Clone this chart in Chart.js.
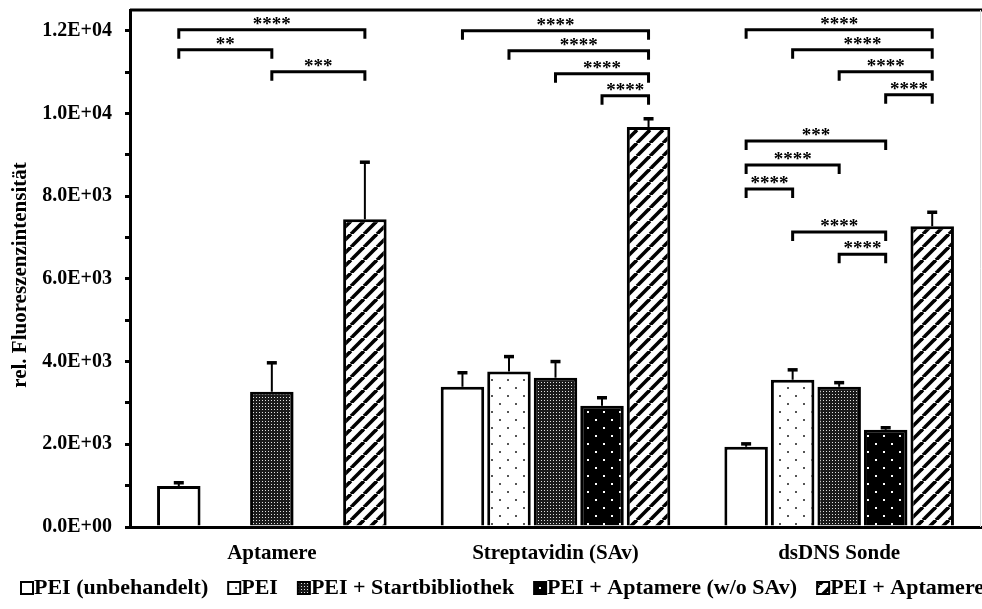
<!DOCTYPE html>
<html>
<head>
<meta charset="utf-8">
<script src="https://cdn.jsdelivr.net/npm/chart.js@4.4.0/dist/chart.umd.min.js"></script>
<style>
html, body { margin: 0; padding: 0; background: #fff; overflow: hidden; }
#wrap { width: 982px; height: 609px; position: relative; }
</style>
</head>
<body>
<div id="wrap"><canvas id="chart"></canvas></div>
<script>
// Werte
var categories = ['Aptamere', 'Streptavidin (SAv)', 'dsDNS Sonde'];
var seriesLabels = ['PEI (unbehandelt)', 'PEI', 'PEI + Startbibliothek', 'PEI + Aptamere (w/o SAv)', 'PEI + Aptamere'];

var peiUnbehandelt = [990, 3390, 1940];
var pei = [null, 3760, 3560];
var peiStartbibliothek = [3270, 3610, 3390];
var peiAptamereOhneSAv = [null, 2930, 2350];
var peiAptamere = [7440, 9670, 7270];

var errUnbehandelt = [80, 340, 70];
var errPei = [null, 360, 240];
var errStartbibliothek = [700, 390, 100];
var errAptamereOhneSAv = [null, 195, 50];
var errAptamere = [1380, 200, 340];

var yTicks = [0, 2000, 4000, 6000, 8000, 10000, 12000];

// Signifikanz-Klammern: Gruppe, von Balken, bis Balken, Höhe, Sterne
var bracketGroup = [0, 0, 0, 1, 1, 1, 1, 2, 2, 2, 2, 2, 2, 2, 2, 2];
var bracketFrom  = [0, 0, 2, 0, 1, 2, 3, 0, 1, 2, 3, 0, 0, 0, 1, 2];
var bracketTo    = [4, 2, 4, 4, 4, 4, 4, 4, 4, 4, 4, 3, 2, 1, 3, 3];
var bracketY     = [12020, 11540, 11010, 12000, 11515, 10960, 10425, 12020, 11540, 11010, 10450, 9330, 8750, 8170, 7130, 6595];
var bracketText  = ['****', '**', '***', '****', '****', '****', '****', '****', '****', '****', '****', '***', '****', '****', '****', '****'];

var FONT = '"Liberation Serif", "Times New Roman", serif';

function makePattern(kind) {
    var c = document.createElement('canvas');
    var g = c.getContext('2d');
    if (kind === 'sparse' || kind === 'dark') {
        c.width = 16; c.height = 16;
        g.fillStyle = kind === 'sparse' ? '#fff' : '#000';
        g.fillRect(0, 0, 16, 16);
        g.fillStyle = kind === 'sparse' ? '#555' : '#fff';
        g.fillRect(3, 3, 2, 2);
        g.fillRect(11, 11, 2, 2);
    } else if (kind === 'dense') {
        c.width = 3; c.height = 3;
        g.fillStyle = '#1a1a1a';
        g.fillRect(0, 0, 3, 3);
        g.fillStyle = '#e0e0e0';
        g.fillRect(1, 1, 1, 1);
    } else if (kind === 'hatch') {
        c.width = 13; c.height = 13;
        g.fillStyle = '#fff';
        g.fillRect(0, 0, 13, 13);
        g.strokeStyle = '#000';
        g.lineWidth = 3.6;
        [-13, 0, 13].forEach(function (o) {
            g.beginPath();
            g.moveTo(o, 13);
            g.lineTo(o + 13, 0);
            g.stroke();
        });
    } else {
        return '#fff';
    }
    return g.createPattern(c, 'repeat');
}

var fills = [makePattern('white'), makePattern('sparse'), makePattern('dense'), makePattern('dark'), makePattern('hatch')];
var seriesValues = [peiUnbehandelt, pei, peiStartbibliothek, peiAptamereOhneSAv, peiAptamere];
var seriesErrors = [errUnbehandelt, errPei, errStartbibliothek, errAptamereOhneSAv, errAptamere];

function sciLabel(v) {
    if (v === 0) return '0.0E+00';
    var e = Math.floor(Math.log10(v));
    var m = v / Math.pow(10, e);
    return m.toFixed(1) + 'E+' + (e < 10 ? '0' : '') + e;
}

var extrasPlugin = {
    id: 'extras',
    afterDatasetsDraw: function (chart) {
        var ctx = chart.ctx;
        var y = chart.scales.y;
        var area = chart.chartArea;
        ctx.save();

        // Fehlerbalken (nur nach oben)
        ctx.strokeStyle = '#000';
        seriesValues.forEach(function (vals, i) {
            var meta = chart.getDatasetMeta(i);
            vals.forEach(function (v, g) {
                if (v === null || !seriesErrors[i][g]) return;
                var x = meta.data[g].x;
                var yb = y.getPixelForValue(v);
                var yt = y.getPixelForValue(v + seriesErrors[i][g]);
                ctx.lineWidth = 2;
                ctx.beginPath();
                ctx.moveTo(x, yb);
                ctx.lineTo(x, yt);
                ctx.stroke();
                ctx.lineWidth = 3.5;
                ctx.beginPath();
                ctx.moveTo(x - 5, yt);
                ctx.lineTo(x + 5, yt);
                ctx.stroke();
            });
        });

        // Signifikanz-Klammern
        ctx.lineWidth = 3;
        ctx.lineJoin = 'miter';
        ctx.fillStyle = '#000';
        ctx.font = 'bold 19px ' + FONT;
        ctx.textAlign = 'center';
        ctx.textBaseline = 'alphabetic';
        bracketGroup.forEach(function (g, k) {
            var x1 = chart.getDatasetMeta(bracketFrom[k]).data[g].x;
            var x2 = chart.getDatasetMeta(bracketTo[k]).data[g].x;
            var yy = y.getPixelForValue(bracketY[k]);
            ctx.beginPath();
            ctx.moveTo(x1, yy + 9);
            ctx.lineTo(x1, yy);
            ctx.lineTo(x2, yy);
            ctx.lineTo(x2, yy + 9);
            ctx.stroke();
            ctx.fillText(bracketText[k], (x1 + x2) / 2, yy);
        });

        // Rahmen oben und rechts
        ctx.strokeStyle = '#000';
        ctx.lineWidth = 3;
        ctx.beginPath();
        ctx.moveTo(area.left, area.top);
        ctx.lineTo(chart.width, area.top);
        ctx.stroke();
        ctx.strokeStyle = '#d9d9d9';
        ctx.lineWidth = 1;
        ctx.beginPath();
        ctx.moveTo(chart.width - 1.5, area.top);
        ctx.lineTo(chart.width - 1.5, area.bottom);
        ctx.stroke();

        // Legende unten
        ctx.font = 'bold 22px ' + FONT;
        ctx.textAlign = 'left';
        ctx.textBaseline = 'middle';
        var lx = 21, ly = 588;
        seriesLabels.forEach(function (lab, i) {
            ctx.fillStyle = fills[i];
            ctx.fillRect(lx, ly - 6, 12, 12);
            ctx.strokeStyle = '#000';
            ctx.lineWidth = 2;
            ctx.strokeRect(lx, ly - 6, 12, 12);
            ctx.fillStyle = '#000';
            ctx.fillText(lab, lx + 13, ly);
            lx += 13 + ctx.measureText(lab).width + 20;
        });

        // y-Achsentitel
        ctx.save();
        ctx.translate(21, 275);
        ctx.rotate(-Math.PI / 2);
        ctx.font = 'bold 21px ' + FONT;
        ctx.textAlign = 'center';
        ctx.textBaseline = 'middle';
        ctx.fillText('rel. Fluoreszenzintensität', 0, 0);
        ctx.restore();

        ctx.restore();
    }
};

var datasets = seriesLabels.map(function (lab, i) {
    return {
        label: lab,
        data: seriesValues[i],
        backgroundColor: fills[i],
        borderColor: '#000',
        borderWidth: 3,
        borderSkipped: 'bottom',
        barPercentage: 0.935,
        categoryPercentage: 0.82
    };
});

new Chart(document.getElementById('chart'), {
    type: 'bar',
    data: { labels: categories, datasets: datasets },
    options: {
        responsive: true,
        maintainAspectRatio: false,
        devicePixelRatio: 1,
        animation: false,
        layout: { padding: { top: 10, right: 1, left: 0, bottom: 0 } },
        plugins: {
            legend: { display: false },
            tooltip: { enabled: false }
        },
        scales: {
            x: {
                grid: { display: false },
                border: { display: true, color: '#000', width: 3 },
                ticks: {
                    color: '#000',
                    padding: 6,
                    font: { family: FONT, size: 21, weight: 'bold' }
                },
                afterFit: function (s) { s.height = 82; s.paddingLeft = 0; s.paddingRight = 0; }
            },
            y: {
                min: 0,
                max: 12500,
                grid: { display: true, drawOnChartArea: false, drawTicks: true, tickLength: 5, tickColor: '#000', lineWidth: 3 },
                border: { display: true, color: '#000', width: 3 },
                afterBuildTicks: function (s) {
                    var t = [];
                    for (var v = 0; v <= 12000; v += 1000) t.push({ value: v });
                    s.ticks = t;
                },
                ticks: {
                    color: '#000',
                    padding: 13,
                    font: { family: FONT, size: 20, weight: 'bold' },
                    callback: function (v) { return yTicks.indexOf(v) >= 0 ? sciLabel(v) : ''; }
                },
                title: { display: false },
                afterFit: function (s) { s.width = 130; s.paddingTop = 0; s.paddingBottom = 0; }
            }
        }
    },
    plugins: [extrasPlugin]
});
</script>
</body>
</html>
